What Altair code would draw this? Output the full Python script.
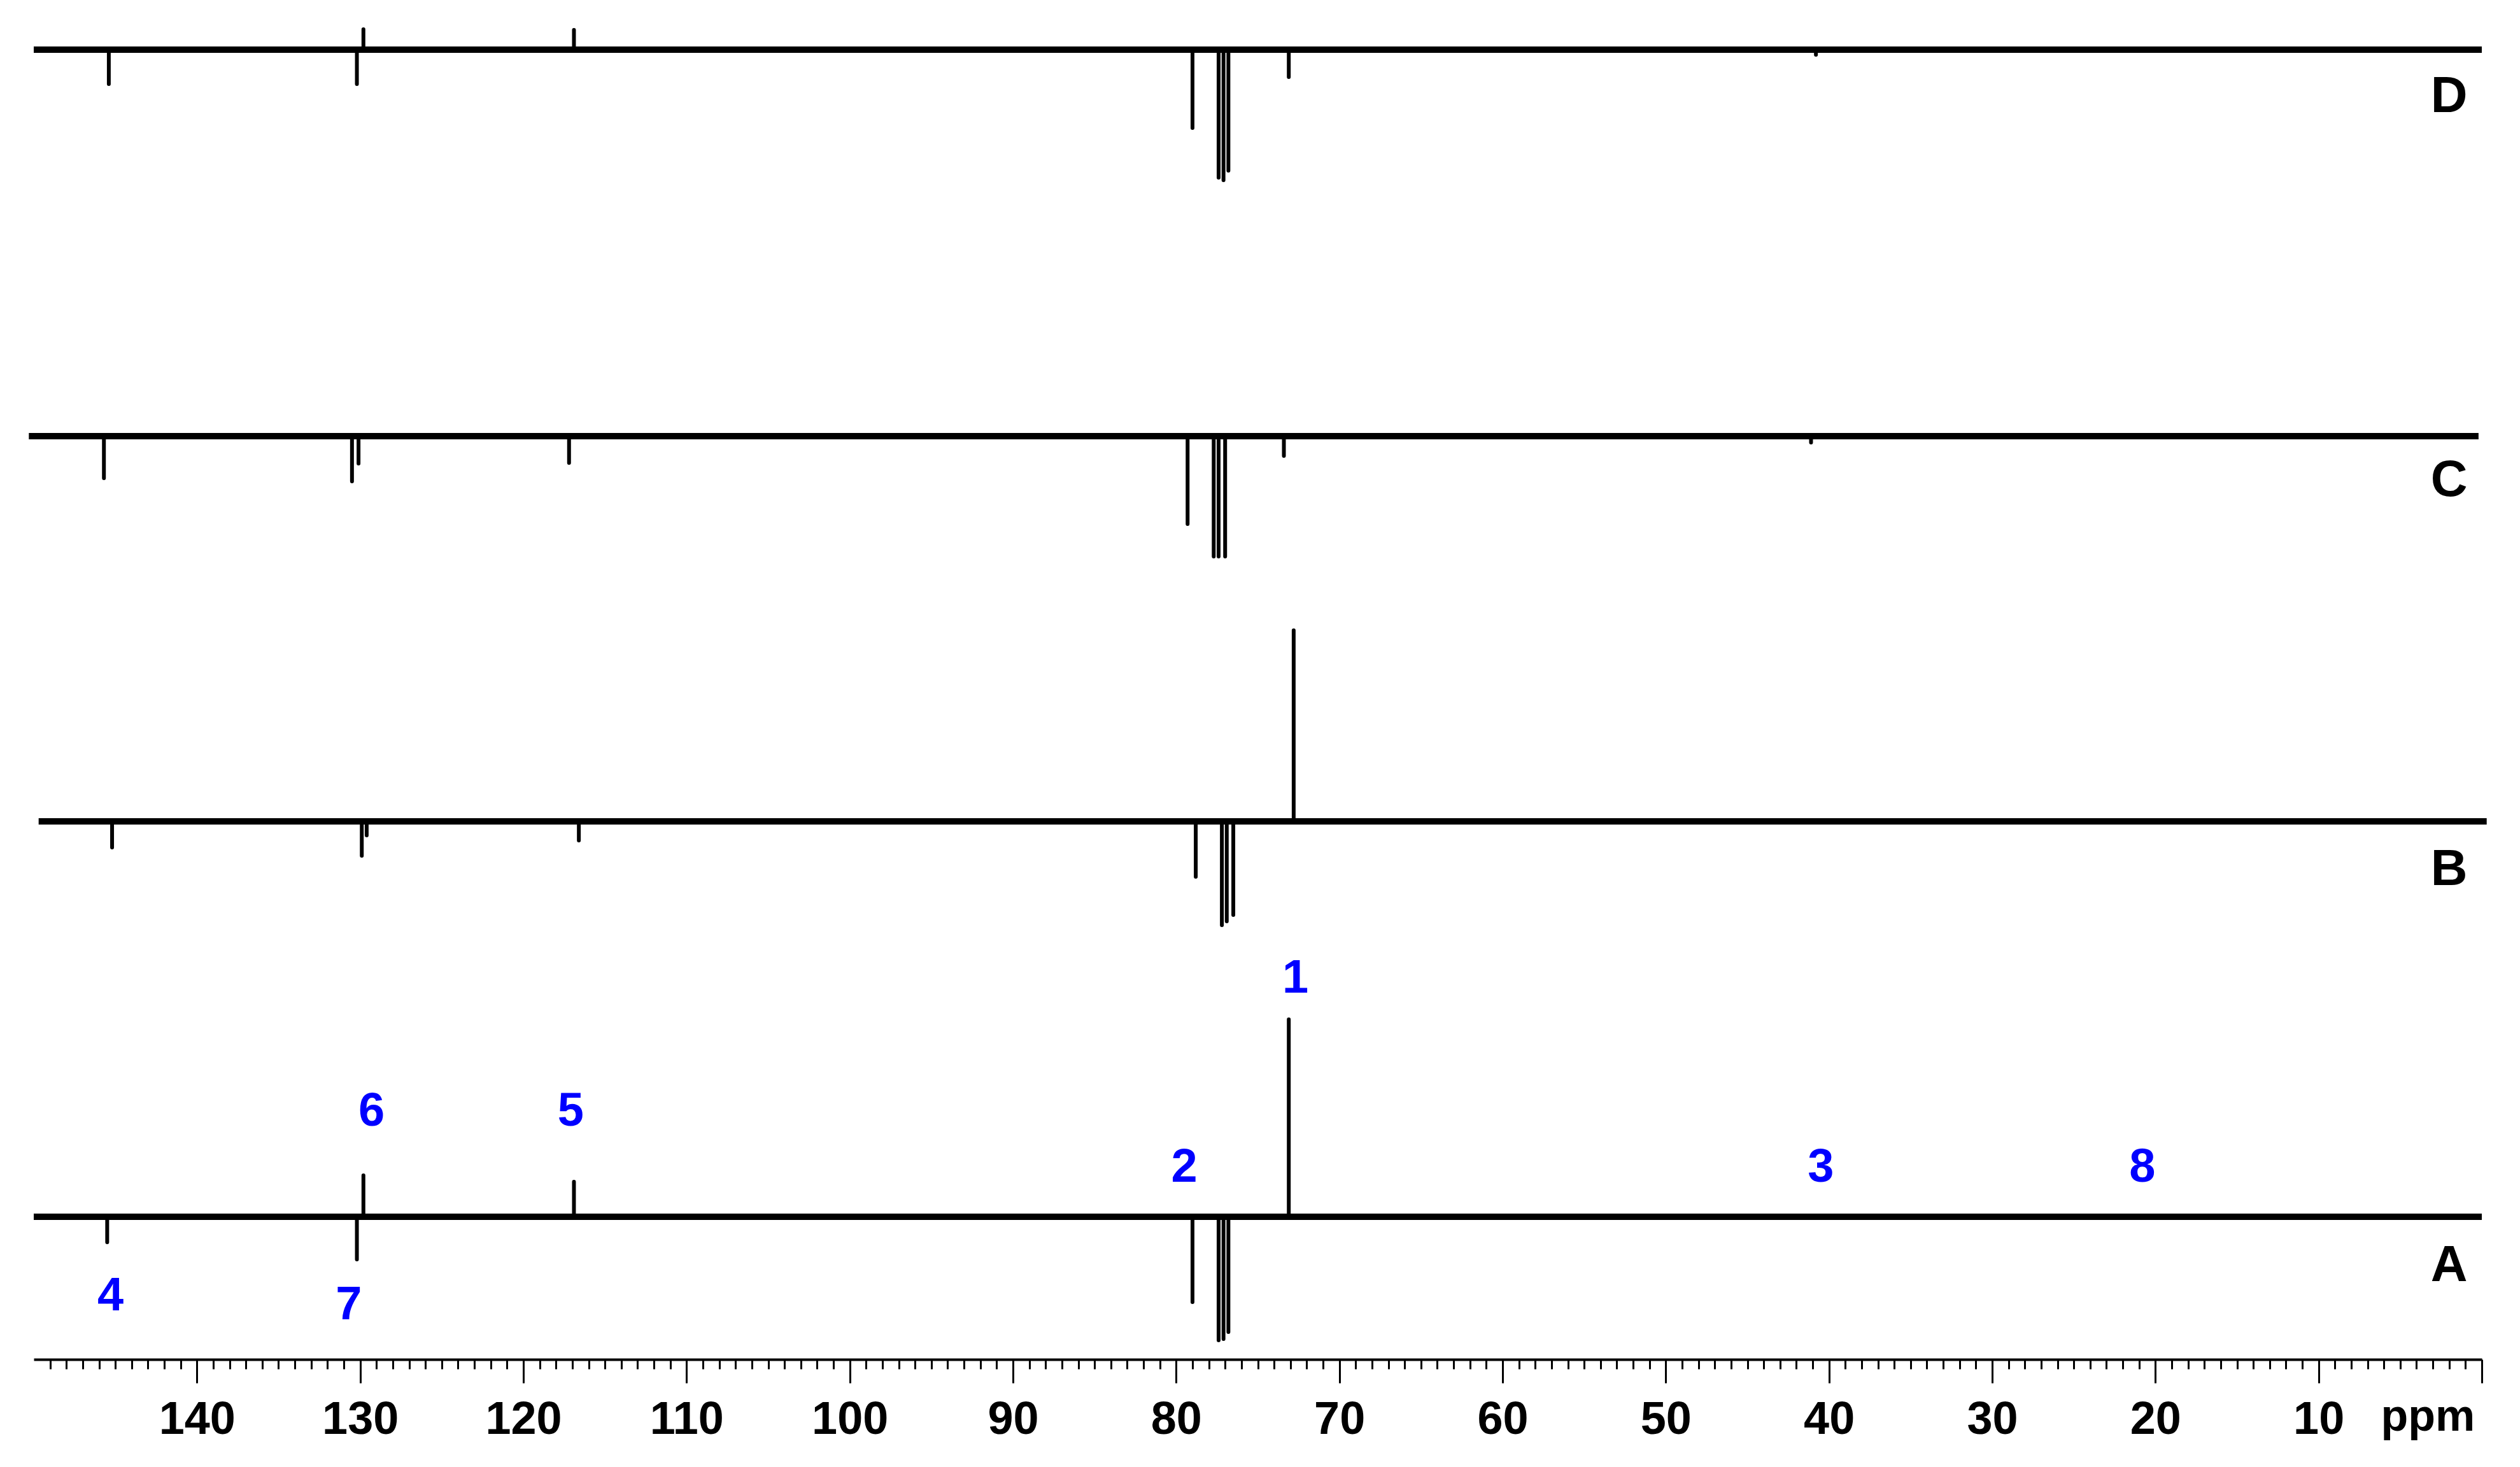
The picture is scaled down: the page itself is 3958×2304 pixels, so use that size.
import altair as alt
import pandas as pd

# ---- data (ppm, intensity in plot units) ----
traces = ["A", "B", "C", "D"]
trace_level = [224, 845, 1450, 2057]          # baseline level of each stacked spectrum
trace_start = [150.0, 149.7, 150.3, 150.0]    # ppm where each trace begins
trace_end = [0.0, -0.3, 0.2, 0.0]             # ppm where each trace ends

peaks_A_ppm = [145.5, 130.2, 129.8, 116.9, 79.0, 77.4, 77.1, 76.8, 73.1]
peaks_A_int = [-40, -67, 65, 55, -134, -194, -192, -181, 310]

peaks_B_ppm = [145.2, 129.9, 129.6, 116.6, 78.8, 77.2, 76.9, 76.5, 72.8]
peaks_B_int = [-41, -54, -22, -30, -87, -163, -157, -147, 300]

peaks_C_ppm = [145.7, 130.5, 130.1, 117.2, 79.3, 77.7, 77.4, 77.0, 73.4, 41.1]
peaks_C_int = [-66, -71, -43, -42, -138, -189, -189, -189, -31, -10]

peaks_D_ppm = [145.4, 130.2, 129.8, 116.9, 79.0, 77.4, 77.1, 76.8, 73.1, 40.8]
peaks_D_int = [-54, -54, 32, 31, -123, -201, -205, -190, -43, -8]

assign_text = ["1", "2", "3", "4", "5", "6", "7", "8"]
assign_ppm = [72.7, 79.5, 40.5, 145.3, 117.1, 129.3, 130.7, 20.8]
assign_level = [576, 279, 279, 77, 367, 367, 63, 279]

letter_ppm = [2.0, 2.0, 2.0, 2.0]
letter_level = [123, 745, 1356, 1959]

major_ticks = list(range(0, 141, 10))
minor_ticks = [v for v in range(1, 150) if v % 10 != 0]

# ---- tables ----
base_df = pd.DataFrame({"trace": traces, "level": trace_level,
                        "start": trace_start, "end": trace_end})

rows = []
for t, lvl, pp, ii in zip(traces, trace_level,
                          [peaks_A_ppm, peaks_B_ppm, peaks_C_ppm, peaks_D_ppm],
                          [peaks_A_int, peaks_B_int, peaks_C_int, peaks_D_int]):
    for p, i in zip(pp, ii):
        rows.append({"trace": t, "ppm": p, "y0": lvl, "y1": lvl + i})
peak_df = pd.DataFrame(rows)

assign_df = pd.DataFrame({"text": assign_text, "ppm": assign_ppm, "level": assign_level})
letter_df = pd.DataFrame({"text": traces, "ppm": letter_ppm, "level": letter_level})
unit_df = pd.DataFrame({"text": ["ppm"], "ppm": [3.3], "level": [-112]})

FONT = "Liberation Sans"
W, H = 3845, 2127

xscale = alt.Scale(domain=[0, 150], reverse=True, nice=False, zero=False)
yscale = alt.Scale(domain=[0, H], nice=False, zero=False)

major_axis = alt.Axis(values=major_ticks, title=None, orient="bottom",
                      labelExpr="datum.value == 0 ? '' : datum.label",
                      tickSize=37, tickWidth=3, tickColor="black",
                      domainWidth=4, domainColor="black",
                      labelFont=FONT, labelFontSize=72, labelFontWeight="bold",
                      labelColor="black", labelPadding=22, labelFlush=False,
                      labelOverlap=False, labelBound=False, grid=False)
minor_axis = alt.Axis(values=minor_ticks, title=None, orient="bottom",
                      labels=False, domain=False, tickSize=15, tickWidth=3,
                      tickColor="black", grid=False)

baselines = alt.Chart(base_df).mark_rule(color="black", strokeWidth=10).encode(
    x=alt.X("start:Q", scale=xscale, axis=major_axis),
    x2="end:Q",
    y=alt.Y("level:Q", scale=yscale, axis=None),
)

peaks = alt.Chart(peak_df).mark_rule(color="black", strokeWidth=6, strokeCap="round").encode(
    x=alt.X("ppm:Q", scale=xscale, axis=minor_axis),
    y=alt.Y("y0:Q", scale=yscale, axis=None),
    y2="y1:Q",
)

assign = alt.Chart(assign_df).mark_text(
    color="#0000FF", font=FONT, fontWeight="bold", fontSize=74,
    align="center", baseline="alphabetic").encode(
    x=alt.X("ppm:Q", scale=xscale, axis=None),
    y=alt.Y("level:Q", scale=yscale, axis=None),
    text="text:N",
)

letters = alt.Chart(letter_df).mark_text(
    color="black", font=FONT, fontWeight="bold", fontSize=80,
    align="center", baseline="alphabetic").encode(
    x=alt.X("ppm:Q", scale=xscale, axis=None),
    y=alt.Y("level:Q", scale=yscale, axis=None),
    text="text:N",
)

unit = alt.Chart(unit_df).mark_text(
    color="black", font=FONT, fontWeight="bold", fontSize=70,
    align="center", baseline="alphabetic").encode(
    x=alt.X("ppm:Q", scale=xscale, axis=None),
    y=alt.Y("level:Q", scale=yscale, axis=None),
    text="text:N",
)

chart = alt.layer(baselines, peaks, assign, letters, unit).resolve_axis(
    x="independent"
).properties(
    width=W, height=H,
    autosize=alt.AutoSizeParams(type="none"),
    padding={"left": 45, "top": 0, "right": 50, "bottom": 160},
    background="white",
).configure_view(stroke=None)

chart.save("out.html", embed_options={"renderer": "svg", "actions": False})
